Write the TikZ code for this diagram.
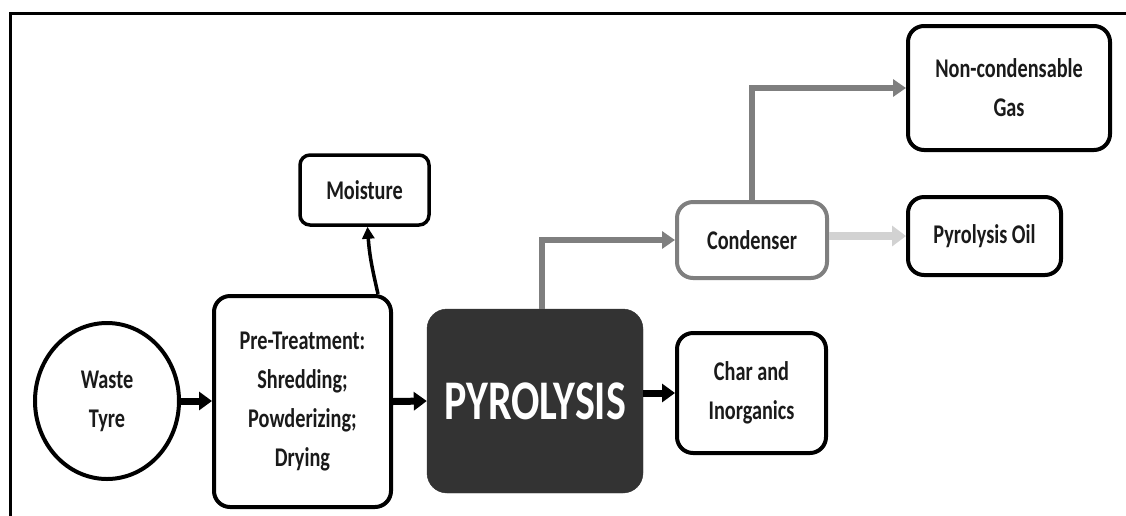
\documentclass[tikz,border=0pt]{standalone}
\usepackage{fontspec}
\setmainfont[FakeStretch=0.75]{Carlito}
\usetikzlibrary{arrows.meta,shapes.geometric}
\definecolor{txt}{HTML}{1A1A1A}
\definecolor{pyrofill}{HTML}{333333}
\definecolor{midgray}{HTML}{7F7F7F}
\definecolor{lightgray2}{HTML}{D2D2D2}
\tikzset{
  lbl/.style={font=\fontsize{27}{39}\selectfont\bfseries, text=txt, align=center},
  bbox/.style={lbl, draw=black, line width=4pt, rounded corners=16pt, fill=white, inner sep=0pt},
  blackarrow/.style={line width=7pt, -{Triangle[length=13pt,width=18pt]}},
  grayarrow/.style={draw=midgray, line width=5.5pt, -{Triangle[length=13pt,width=17pt]}},
}
\begin{document}
\begin{tikzpicture}[x=1pt,y=-1pt]
\useasboundingbox (0,0) rectangle (1126,515);
\fill[white] (0,0) rectangle (1126,515);
% frame
\draw[line width=3pt, line cap=rect] (10,515) -- (10,13) -- (1126,13);
% nodes
\node[lbl, draw=black, line width=4pt, ellipse, minimum width=144pt, minimum height=156pt, inner sep=0pt] (waste) at (107,401) {Waste\\Tyre};
\node[bbox, minimum width=177pt, minimum height=211pt] (pre) at (302.5,401.5) {Pre-Treatment:\\Shredding;\\Powderizing;\\Drying};
\node[lbl, fill=pyrofill, draw=pyrofill, rounded corners=20pt, minimum width=216pt, minimum height=184pt, inner sep=0pt, text=white, font=\fontsize{56}{60}\selectfont\bfseries] (pyro) at (535,401) {PYROLYSIS};
\node[bbox, minimum width=149pt, minimum height=120pt] (char) at (751.5,393) {Char and\\Inorganics};
\node[bbox, draw=midgray, minimum width=150pt, minimum height=76pt] (cond) at (752,240) {Condenser};
\node[bbox, minimum width=153pt, minimum height=78pt] (oil) at (984.5,236) {Pyrolysis Oil};
\node[bbox, minimum width=202pt, minimum height=124pt] (nc) at (1009,88) {Non-condensable\\Gas};
\node[bbox, line width=3.5pt, rounded corners=10pt, minimum width=129pt, minimum height=70pt] (moist) at (364.5,190) {Moisture};
% connectors
\draw[blackarrow] (waste.east) -- (waste.east -| pre.west);
\draw[blackarrow] (pre.east) -- (pyro.west);
\draw[blackarrow] (char.west -| pyro.east) -- (char.west);
\coordinate (mstart) at ([xshift=-15pt]pre.north east);
\coordinate (mend) at ([xshift=3pt]moist.south);
\draw[line width=3.5pt, -{Triangle[length=12pt,width=12pt]}] (mstart) .. controls ([xshift=-5pt,yshift=22pt]mstart) and ([xshift=2pt,yshift=-30pt]mend) .. (mend);
\draw[grayarrow] ([xshift=7pt]pyro.north) |- (cond.west);
\draw[grayarrow] (cond.north) |- (nc.west);
\draw[draw=lightgray2, line width=8pt, -{Triangle[length=14pt,width=20pt]}] (oil.west -| cond.east) -- (oil.west);
\end{tikzpicture}
\end{document}
